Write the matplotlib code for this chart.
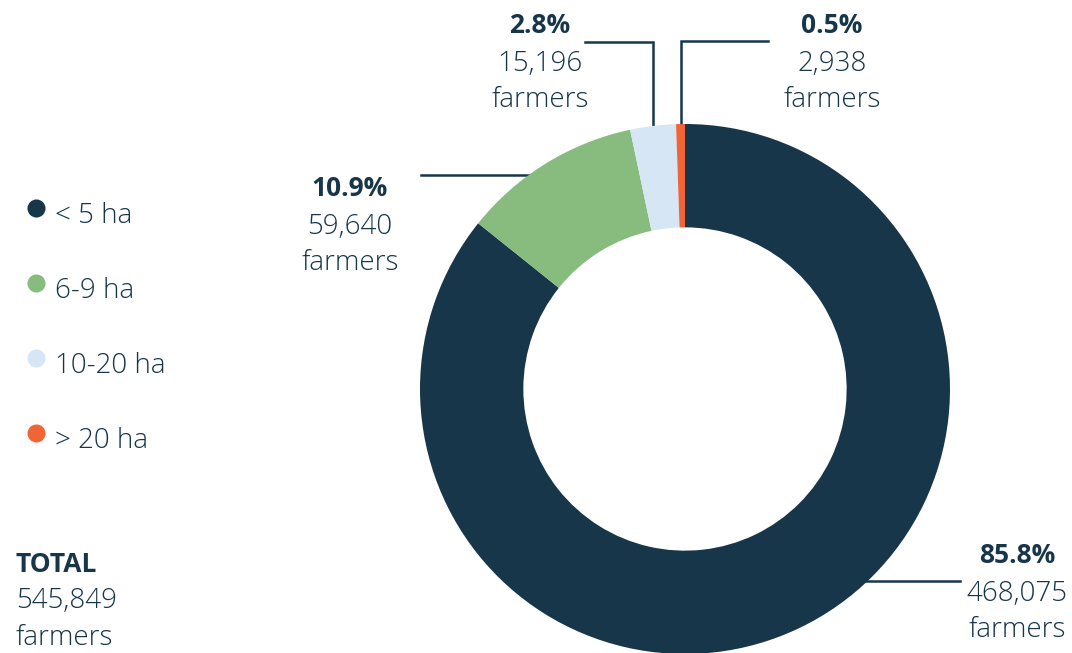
import numpy as np
import matplotlib.pyplot as plt

# data
categories = ['< 5 ha', '6-9 ha', '10-20 ha', '> 20 ha']
farmers = [468075, 59640, 15196, 2938]
pct_labels = ['85.8%', '10.9%', '2.8%', '0.5%']
count_labels = ['468,075', '59,640', '15,196', '2,938']
total_label = '545,849'
colors = ['#17364A', '#88BC7E', '#D6E6F4', '#F06436']

navy = '#17364A'
plt.rcParams['font.family'] = ['Open Sans', 'DejaVu Sans']

W, H = 1072, 653
fig = plt.figure(figsize=(W / 100, H / 100), dpi=100)
ax = fig.add_axes([0, 0, 1, 1])

# donut (pixel coordinates, y measured from bottom)
cx, cy, R = 685, H - 389, 265
ring = 0.39
wedges, _ = ax.pie(farmers, colors=colors, startangle=90, counterclock=False,
                   center=(cx, cy), radius=R, frame=True,
                   wedgeprops=dict(width=R * ring, linewidth=0))
for w in wedges:
    w.set_zorder(3)
ax.set_xlim(0, W)
ax.set_ylim(0, H)
ax.set_aspect('equal')
ax.axis('off')

frac = np.array(farmers) / sum(farmers)
ends = np.cumsum(frac)
mids = ends - frac / 2
angles = np.deg2rad(90 - mids * 360)


def edge_x_at(y, side):
    dy = y - cy
    return cx + side * np.sqrt(max(R ** 2 - dy ** 2, 0))


lw = 1.8
# 85.8% - horizontal leader on right
y0 = H - 581
ax.plot([edge_x_at(y0, 1) - 5, 960], [y0, y0], color=navy, lw=lw, zorder=2)
# 10.9% - horizontal leader on left
y1 = H - 175
ax.plot([421, edge_x_at(y1, -1) + 5], [y1, y1], color=navy, lw=lw, zorder=2)
# 2.8% - vertical then left
x2 = cx + R * np.cos(angles[2])
ax.plot([x2, x2, 585], [cy + R * np.sin(angles[2]) - 3, H - 42, H - 42],
        color=navy, lw=lw, zorder=2, solid_joinstyle='miter')
# 0.5% - vertical then right
x3 = cx + R * np.cos(angles[3])
ax.plot([x3, x3, 768], [cy + R * np.sin(angles[3]) - 3, H - 41, H - 41],
        color=navy, lw=lw, zorder=2, solid_joinstyle='miter')

# slice labels: (x center, baseline of first line)
label_pos = [(1017, 563), (350, 196), (540, 33), (832, 33)]
for (lx, ly), p, c in zip(label_pos, pct_labels, count_labels):
    ax.text(lx, H - ly, p, ha='center', va='baseline', fontsize=19,
            fontweight='bold', color=navy)
    ax.text(lx, H - ly - 38, c, ha='center', va='baseline', fontsize=20,
            fontweight='light', color=navy)
    ax.text(lx, H - ly - 74, 'farmers', ha='center', va='baseline', fontsize=20,
            fontweight='light', color=navy)

# legend
leg_y = [212, 287, 362, 437]
for ly, cat, col in zip(leg_y, categories, colors):
    ax.plot(36, H - ly + 4, 'o', ms=13, color=col, mec='none')
    ax.text(55, H - ly - 11, cat, ha='left', va='baseline', fontsize=20,
            fontweight='light', color=navy)

# total
ax.text(16, H - 572, 'TOTAL', ha='left', va='baseline', fontsize=19,
        fontweight='bold', color=navy)
ax.text(16, H - 608, total_label, ha='left', va='baseline', fontsize=20,
        fontweight='light', color=navy)
ax.text(16, H - 645, 'farmers', ha='left', va='baseline', fontsize=20,
        fontweight='light', color=navy)

fig.savefig('out.png', dpi=100)
